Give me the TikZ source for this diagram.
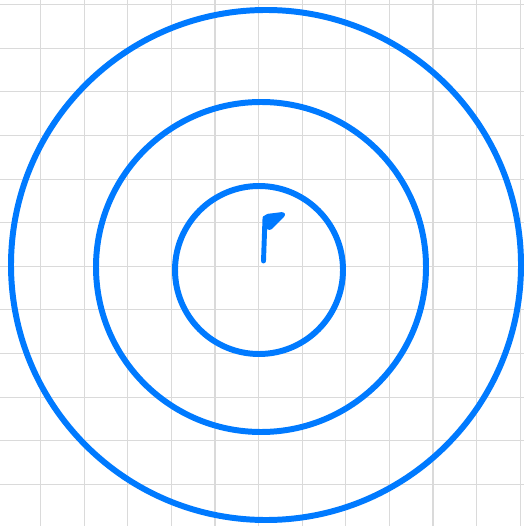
\documentclass[tikz,border=0pt]{standalone}
\usepackage{xcolor}
\usetikzlibrary{math}
\definecolor{ringblue}{RGB}{0,122,255}
\definecolor{gridgray}{RGB}{218,218,218}

\begin{document}
\begin{tikzpicture}[x=0.02cm,y=-0.02cm]
\tikzmath{
\g=43.6;
}
\useasboundingbox (0,0) rectangle (524,526);

% grid
\foreach \i in {1,...,12}
  \draw[gridgray, line width=0.6pt] (-3+\i*\g,0) -- +(0,526);
\foreach \i in {0,...,11}
  \draw[gridgray, line width=0.6pt] (0,4.7+\i*\g) -- +(524,0);

% rings
\draw[ringblue, line width=3.4pt] (266,265) circle [radius=255];
\draw[ringblue, line width=3.4pt] (261,267) circle [radius=165];
\draw[ringblue, line width=3.4pt] (259,270) circle [radius=84];

% flag
\draw[ringblue, line width=2.8pt, line cap=round] (263.5,261) -- (265,218);
\filldraw[ringblue, line width=2pt, line join=round, rounded corners=2pt]
  (264.5,216) -- (285,213.5) -- (268.5,230) -- cycle;
\end{tikzpicture}
\end{document}
